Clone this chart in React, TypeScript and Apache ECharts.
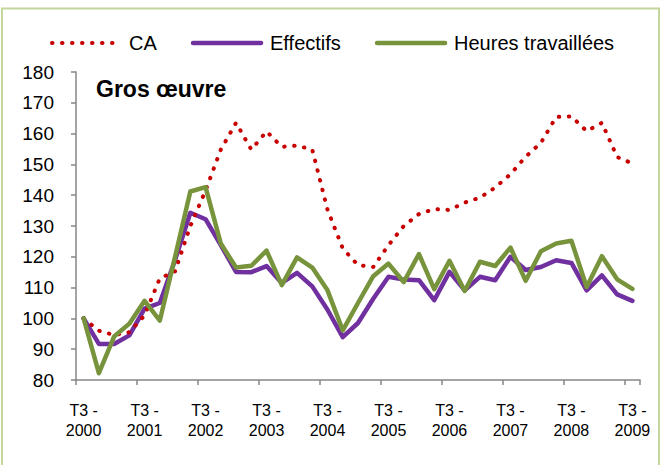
import React, { useEffect, useRef } from "react";
import * as echarts from "echarts";

const categories = [
  "T3 - 2000", "T4 - 2000", "T1 - 2001", "T2 - 2001",
  "T3 - 2001", "T4 - 2001", "T1 - 2002", "T2 - 2002",
  "T3 - 2002", "T4 - 2002", "T1 - 2003", "T2 - 2003",
  "T3 - 2003", "T4 - 2003", "T1 - 2004", "T2 - 2004",
  "T3 - 2004", "T4 - 2004", "T1 - 2005", "T2 - 2005",
  "T3 - 2005", "T4 - 2005", "T1 - 2006", "T2 - 2006",
  "T3 - 2006", "T4 - 2006", "T1 - 2007", "T2 - 2007",
  "T3 - 2007", "T4 - 2007", "T1 - 2008", "T2 - 2008",
  "T3 - 2008", "T4 - 2008", "T1 - 2009", "T2 - 2009",
  "T3 - 2009",
];

const caValues = [
  100, 96, 94.6, 95.5, 101, 113, 115.3, 130, 141.5, 154.8, 163.5, 154.8,
  160.7, 155.7, 156.1, 154.8, 135.3, 122.7, 117.3, 116.7, 123.8, 130, 133.9, 135.5,
  135.2, 137.6, 139.2, 142.5, 146.8, 152.5, 157, 165.4, 165.6, 160.8, 163.5, 152.4,
  150.3,
];

const effectifsValues = [
  100, 91.7, 91.7, 94.5, 103.2, 105, 119, 134.3, 132.2, 123.8, 115.1, 115,
  117, 111.5, 114.8, 110.4, 102.8, 93.9, 98.5, 106.4, 113.5, 112.6, 112.4, 105.9,
  115.1, 109.1, 113.5, 112.4, 120, 115.7, 116.7, 118.9, 118, 109.1, 114, 107.8,
  105.7,
];

const heuresValues = [
  100, 82.2, 94.1, 98.3, 105.7, 99.3, 120, 141.2, 142.6, 124.3, 116.5, 117.1,
  122, 110.8, 119.8, 116.5, 109.1, 96.1, 105, 113.7, 117.8, 111.8, 120.9, 109.5,
  118.7, 108.9, 118.4, 117, 123, 112.2, 121.8, 124.3, 125.2, 110.2, 120.2, 112.7,
  109.6,
];

const seriesNames = ["CA", "Effectifs", "Heures travaillées"];
const chartTitle = "Gros œuvre";

const FONT = "'Liberation Sans', Arial, sans-serif";

export default function App() {
  const ref = useRef<HTMLDivElement>(null);

  useEffect(() => {
    if (!ref.current) return;
    const chart = echarts.init(ref.current, undefined, { renderer: "svg" });
    chart.setOption({
      animation: false,
      backgroundColor: "#ffffff",
      textStyle: { fontFamily: FONT },
      title: {
        text: chartTitle,
        left: 96,
        top: 77,
        padding: 0,
        textStyle: { fontFamily: FONT, fontSize: 23, fontWeight: "bold", color: "#000" },
      },
      legend: {
        top: 28,
        left: 45,
        itemWidth: 68,
        itemHeight: 24,
        itemGap: 34,
        itemStyle: { opacity: 0 },
        lineStyle: { width: "inherit", opacity: 1 },
        textStyle: { fontFamily: FONT, fontSize: 20, color: "#000", padding: [0, 0, 0, 4] },
        data: seriesNames,
      },
      graphic: [
        {
          type: "rect",
          shape: { x: 2, y: 8.5, width: 657, height: 470 },
          style: { fill: "none", stroke: "#c3d69b", lineWidth: 2 },
          silent: true,
          z: -1,
        },
      ],
      grid: { left: 76, right: 21, top: 72, bottom: 85, containLabel: false },
      xAxis: {
        type: "category",
        data: categories,
        boundaryGap: true,
        axisLine: { lineStyle: { color: "#868686", width: 1.5 } },
        axisTick: { show: true, interval: 3, length: 5, lineStyle: { color: "#868686", width: 1.5 } },
        axisLabel: {
          interval: 3,
          margin: 20,
          fontFamily: FONT,
          fontSize: 16,
          lineHeight: 20,
          color: "#000",
          formatter: (v: string) => v.replace(" - ", " -\n"),
        },
        splitLine: { show: false },
      },
      yAxis: {
        type: "value",
        min: 80,
        max: 180,
        interval: 10,
        axisLine: { show: true, lineStyle: { color: "#868686", width: 1.5 } },
        axisTick: { show: true, length: 5, lineStyle: { color: "#868686", width: 1.5 } },
        axisLabel: { margin: 22, fontFamily: FONT, fontSize: 19, color: "#000" },
        splitLine: { show: false },
      },
      series: [
        {
          name: seriesNames[0],
          type: "line",
          data: caValues,
          symbol: "none",
          z: 3,
          lineStyle: { color: "#c80000", width: 4, type: [0.5, 9.5], cap: "round", join: "round" },
          itemStyle: { color: "#c80000" },
        },
        {
          name: seriesNames[1],
          type: "line",
          data: effectifsValues,
          symbol: "none",
          z: 2,
          lineStyle: { color: "#7030a0", width: 4.5, join: "round", cap: "round" },
          itemStyle: { color: "#7030a0" },
        },
        {
          name: seriesNames[2],
          type: "line",
          data: heuresValues,
          symbol: "none",
          z: 4,
          lineStyle: { color: "#77933c", width: 4.5, join: "round", cap: "round" },
          itemStyle: { color: "#77933c" },
        },
      ],
    });
    return () => chart.dispose();
  }, []);

  return (
    <div
      ref={ref}
      style={{ position: "absolute", left: 0, top: 0, width: 661, height: 465 }}
    />
  );
}
